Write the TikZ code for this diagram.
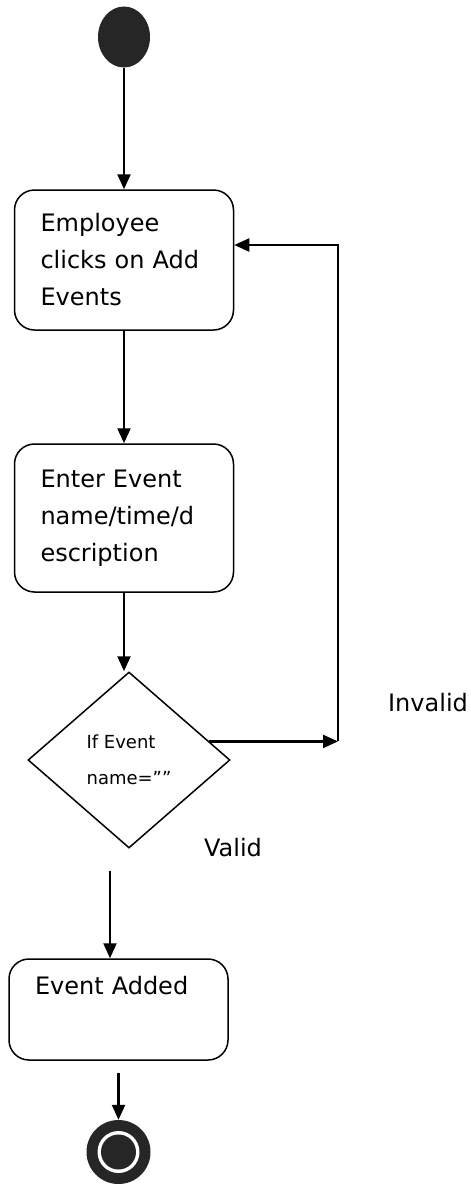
\documentclass[tikz,border=0pt]{standalone}
\usepackage{fontspec}
\setmainfont{DejaVu Sans}
\usetikzlibrary{shapes.geometric,arrows.meta,positioning}

\begin{document}
\begin{tikzpicture}[
            x=1pt,y=1pt,
            flow/.style={-{Triangle[length=15pt,width=13pt]},line width=2.2pt},
            act/.style={draw,rounded corners=20pt,line width=1.5pt,align=left,
                text width=167pt,inner xsep=26pt,inner ysep=0pt,
                font=\fontsize{24}{37}\selectfont},
            cond/.style={draw,diamond,line width=1.5pt,inner sep=0pt,
                minimum width=202pt,minimum height=176pt,align=left,
                font=\fontsize{18}{36}\selectfont},
            startnode/.style={ellipse,fill=black!85,inner sep=0pt,
                minimum width=52pt,minimum height=61pt},
            stopnode/.style={circle,fill=black!85,inner sep=0pt,minimum size=64pt,
                path picture={
                    \fill[white] (path picture bounding box.center) circle (21pt);
                    \fill[black!85] (path picture bounding box.center) circle (17.5pt);}},
            lbl/.style={font=\fontsize{24}{28}\selectfont}]
        \useasboundingbox (0,0) rectangle (471,-1184);

        % Define vertices
        \node[startnode] (start) at (124,-37) {};
        \node[act,minimum height=140pt,node distance=223pt] (add) [below of=start]
            {Employee\\clicks on Add\\Events};
        \node[act,minimum height=148pt,node distance=258pt] (enter) [below of=add]
            {Enter Event\\name/time/d\\escription};
        \node[cond,node distance=242pt,xshift=5pt] (dec) [below of=enter]
            {If Event\\name=””};
        \node[act,minimum height=101pt,node distance=249.5pt,xshift=-10.5pt] (done) [below of=dec]
            {Event Added\\ \strut};
        \node[stopnode,node distance=142.5pt] (stop) [below of=done] {};
        \coordinate (turn) at (338,-741);

        % Labels
        \node[lbl] (invalid) at (428,-703) {Invalid};
        \node[lbl] (valid) at (233,-848) {Valid};

        % Draw edges
        \path[flow]
            (start) edge (add)
            (add) edge (enter);
        \draw[flow] (enter.south) -- (enter.south |- dec.north);
        \draw[flow] (dec.13.5) -- (dec.13.5 -| turn);
        \draw[flow] (turn) |- ([yshift=15pt]add.east);
        \draw[flow,shorten <=22pt] ([xshift=-19pt]dec.south) -- ([xshift=-19pt]dec.south |- done.north);
        \draw[flow,shorten <=12pt] (done) -- (stop);
        \end{tikzpicture}
\end{document}
